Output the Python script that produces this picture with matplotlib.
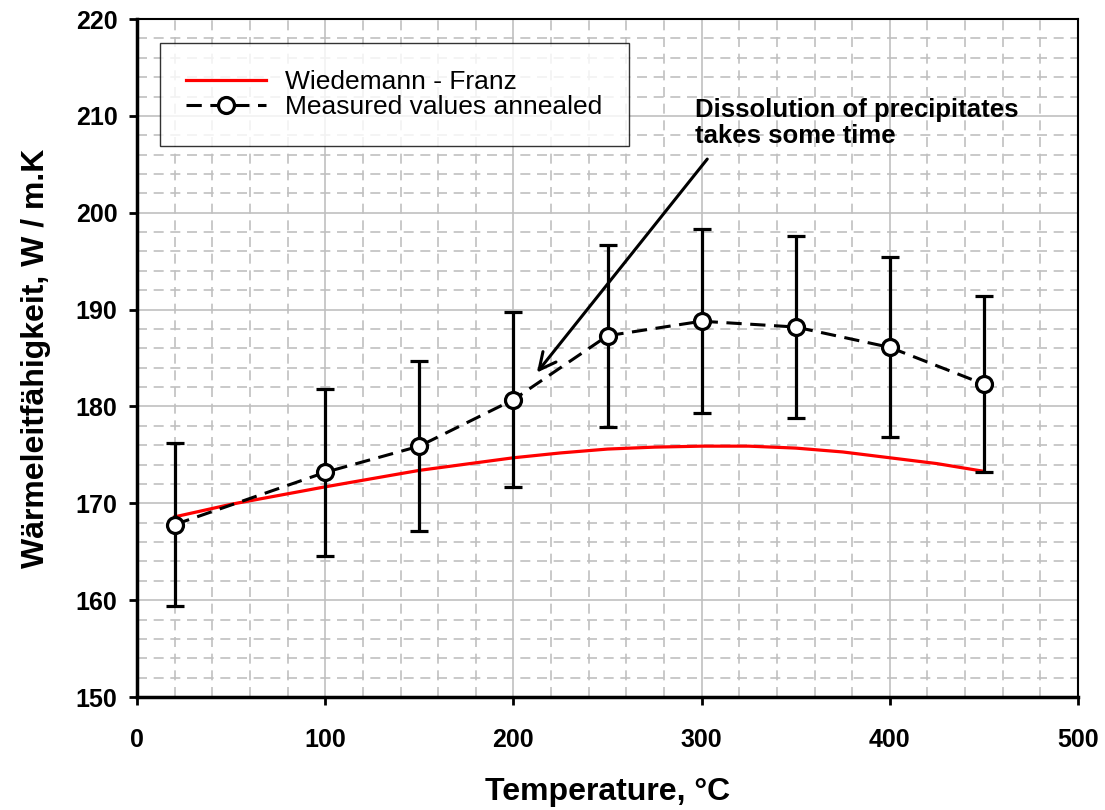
import numpy as np
import matplotlib
matplotlib.use("Agg")
from matplotlib import pyplot as plt
from matplotlib.ticker import MultipleLocator

# measured values (annealed) with error bars
temp_meas = [20, 100, 150, 200, 250, 300, 350, 400, 450]
k_meas = [167.8, 173.2, 175.9, 180.7, 187.3, 188.8, 188.2, 186.1, 182.3]
k_err = [8.4, 8.6, 8.8, 9.0, 9.4, 9.5, 9.4, 9.3, 9.1]

# Wiedemann-Franz estimate
temp_wf = [20, 50, 100, 150, 200, 225, 250, 275, 300, 325, 350, 375, 400, 425, 450]
k_wf = [168.6, 169.9, 171.7, 173.4, 174.7, 175.2, 175.6, 175.8, 175.9, 175.9,
        175.7, 175.3, 174.7, 174.1, 173.3]

plt.rcParams['font.family'] = ['Liberation Sans', 'DejaVu Sans']

fig = plt.figure(figsize=(11.05, 8.10), dpi=100)
ax = fig.add_axes([0.124, 0.1395, 0.8516, 0.837])

ax.plot(temp_wf, k_wf, color='red', lw=2.3, label='Wiedemann - Franz', zorder=3)
ax.errorbar(temp_meas, k_meas, yerr=k_err, fmt='none', ecolor='black',
            elinewidth=2.3, capsize=6.5, capthick=2.3, zorder=4)
ax.plot(temp_meas, k_meas, color='black', lw=2.2, dashes=(5, 2.8),
        marker='o', markersize=11.5, markerfacecolor='white',
        markeredgecolor='black', markeredgewidth=2.3,
        label='Measured values annealed', zorder=5)

ax.set_xlim(0, 500)
ax.set_ylim(150, 220)
ax.xaxis.set_major_locator(MultipleLocator(100))
ax.xaxis.set_minor_locator(MultipleLocator(20))
ax.yaxis.set_major_locator(MultipleLocator(10))
ax.yaxis.set_minor_locator(MultipleLocator(2))

ax.grid(which='major', color='#c0c0c0', lw=1.2, ls='-', zorder=0)
ax.grid(which='minor', color='#c0c0c0', lw=1.2, ls=(0, (6, 4)), zorder=0)
ax.set_axisbelow(True)

ax.tick_params(which='major', direction='out', length=6, width=2,
               labelsize=18, pad=16)
ax.tick_params(axis='y', pad=8)
ax.tick_params(which='minor', length=0)
for lbl in ax.get_xticklabels() + ax.get_yticklabels():
    lbl.set_fontweight('bold')

for s in ax.spines.values():
    s.set_linewidth(1.5)
ax.spines['left'].set_linewidth(2.5)
ax.spines['bottom'].set_linewidth(2.5)

ax.set_xlabel('Temperature, °C', fontsize=23, fontweight='bold', labelpad=18)
ax.set_ylabel('Wärmeleitfähigkeit, W / m.K', fontsize=23, fontweight='bold',
              labelpad=18)

leg = ax.legend(loc='upper left', bbox_to_anchor=(0.0245, 0.964), fontsize=19,
                frameon=True, fancybox=False, borderpad=1.0, handlelength=3.0,
                labelspacing=0.05, handletextpad=0.75, borderaxespad=0)
leg.get_frame().set_edgecolor('black')
leg.get_frame().set_linewidth(1.0)

ax.annotate('Dissolution of precipitates\ntakes some time',
            xy=(212.5, 183.5), xytext=(296.5, 209.3),
            fontsize=18.5, fontweight='bold', ha='left', va='center',
            linespacing=1.1,
            arrowprops=dict(arrowstyle='->', color='black', lw=2.2,
                            mutation_scale=30, shrinkA=8, shrinkB=0,
                            relpos=(0.066, 0.0)))

fig.savefig('out.png', dpi=100)
